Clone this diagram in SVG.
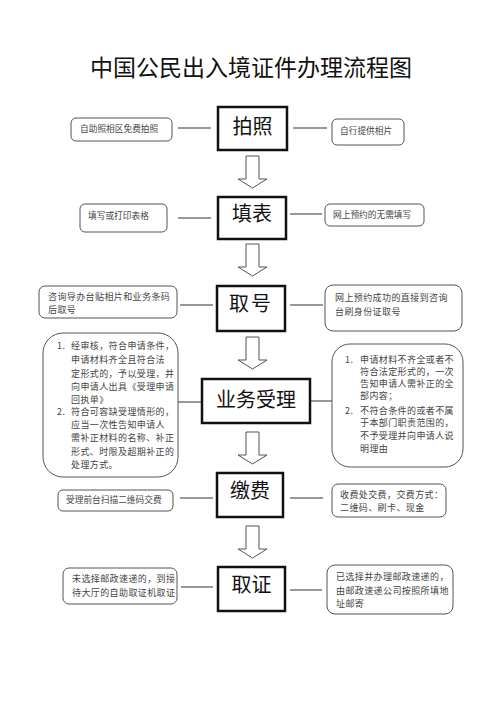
<svg xmlns="http://www.w3.org/2000/svg" xmlns:xlink="http://www.w3.org/1999/xlink" width="500" height="707" viewBox="0 0 500 707">
<style>
.title{font-family:"Noto Sans CJK SC",sans-serif;font-size:23px;fill:#111;font-weight:400}
.main{fill:#fff;stroke:#111;stroke-width:2.5}
.ml{font-family:"Noto Sans CJK SC",sans-serif;font-size:20px;fill:#111;text-anchor:middle}
.side{fill:#fff;stroke:#555;stroke-width:1}
.st{font-family:"Noto Sans CJK SC",sans-serif;font-size:8.7px;fill:#444}
.sw{font-family:"Noto Sans CJK SC",sans-serif;font-size:9px;fill:#444;letter-spacing:0.4px}
.conn line{stroke:#333;stroke-width:1}
.arr{fill:#fff;stroke:#555;stroke-width:1}
</style>
<defs>
<path id="arrow" class="arr" d="M-6.5,0 H6.5 V23 H14.5 L0,32 L-14.5,23 H-6.5 Z"/>
</defs>
<rect width="500" height="707" fill="#fff"/>
<text class="title" x="251" y="76" text-anchor="middle">中国公民出入境证件办理流程图</text>

<g id="connectors" class="conn">
<line x1="178" y1="128" x2="211" y2="128"/>
<line x1="293" y1="128" x2="327" y2="128"/>
<line x1="178" y1="218" x2="211" y2="218"/>
<line x1="290" y1="214" x2="322" y2="214"/>
<line x1="180" y1="305" x2="213" y2="305"/>
<line x1="290" y1="305" x2="323" y2="305"/>
<line x1="178" y1="402" x2="202" y2="402"/>
<line x1="310" y1="401" x2="332" y2="401"/>
<line x1="180" y1="498" x2="213" y2="498"/>
<line x1="290" y1="498" x2="323" y2="498"/>
<line x1="181" y1="587" x2="213" y2="587"/>
<line x1="290" y1="590" x2="322" y2="590"/>
<use xlink:href="#arrow" x="252.5" y="156"/>
<use xlink:href="#arrow" x="252.5" y="244"/>
<use xlink:href="#arrow" x="252.5" y="337"/>
<use xlink:href="#arrow" x="252.5" y="432"/>
<use xlink:href="#arrow" x="252.5" y="526"/>
</g>

<g id="step1">
<rect class="main" x="218" y="107" width="69" height="43"/>
<text class="ml" x="252.5" y="134">拍照</text>
</g>
<g id="step1-left">
<rect class="side" x="71" y="118" width="101" height="23" rx="5"/>
<text class="st" x="80" y="132">自助照相区免费拍照</text>
</g>
<g id="step1-right">
<rect class="side" x="332" y="119" width="72" height="26" rx="5"/>
<text class="st" x="340" y="134">自行提供相片</text>
</g>

<g id="step2">
<rect class="main" x="218" y="197" width="68" height="42"/>
<text class="ml" x="252" y="221">填表</text>
</g>
<g id="step2-left">
<rect class="side" x="80" y="204" width="87" height="28" rx="5"/>
<text class="st" x="88" y="219">填写或打印表格</text>
</g>
<g id="step2-right">
<rect class="side" x="325" y="204" width="99" height="22" rx="5"/>
<text class="st" x="333" y="218">网上预约的无需填写</text>
</g>

<g id="step3">
<rect class="main" x="217" y="286" width="68" height="45"/>
<text class="ml" x="251" y="311" letter-spacing="2">取号</text>
</g>
<g id="step3-left">
<rect class="side" x="39" y="286" width="138" height="32" rx="6"/>
<text class="sw" x="48" y="300">咨询导办台贴相片和业务条码</text>
<text class="sw" x="48" y="313">后取号</text>
</g>
<g id="step3-right">
<rect class="side" x="325" y="285" width="137" height="46" rx="8"/>
<text class="sw" x="335" y="301">网上预约成功的直接到咨询</text>
<text class="sw" x="335" y="315">台刷身份证取号</text>
</g>

<g id="step4">
<rect class="main" x="202" y="379" width="108" height="44"/>
<text class="ml" x="256" y="407">业务受理</text>
</g>
<g id="step4-left">
<rect class="side" x="43" y="333" width="135" height="144" rx="20"/>
<g class="sw">
<text x="57" y="349">1.</text>
<text x="71" y="349">经审核，符合申请条件，</text>
<text x="71" y="363">申请材料齐全且符合法</text>
<text x="71" y="377">定形式的，予以受理，并</text>
<text x="71" y="390">向申请人出具《受理申请</text>
<text x="71" y="403">回执单》</text>
<text x="57" y="415">2.</text>
<text x="71" y="415">符合可容缺受理情形的，</text>
<text x="71" y="428">应当一次性告知申请人</text>
<text x="71" y="441">需补正材料的名称、补正</text>
<text x="71" y="455">形式、时限及超期补正的</text>
<text x="71" y="468">处理方式。</text>
</g>
</g>
<g id="step4-right">
<rect class="side" x="332" y="344" width="131" height="123" rx="18"/>
<g class="sw">
<text x="345" y="363">1.</text>
<text x="360" y="363">申请材料不齐全或者不</text>
<text x="360" y="375">符合法定形式的，一次</text>
<text x="360" y="387">告知申请人需补正的全</text>
<text x="360" y="399">部内容；</text>
<text x="345" y="414">2.</text>
<text x="360" y="414">不符合条件的或者不属</text>
<text x="360" y="426">于本部门职责范围的，</text>
<text x="360" y="439">不予受理并向申请人说</text>
<text x="360" y="452">明理由</text>
</g>
</g>

<g id="step5">
<rect class="main" x="217" y="473" width="66" height="44"/>
<text class="ml" x="250" y="498">缴费</text>
</g>
<g id="step5-left">
<rect class="side" x="58" y="490" width="115" height="21" rx="5"/>
<text class="st" x="66" y="503">受理前台扫描二维码交费</text>
</g>
<g id="step5-right">
<rect class="side" x="332" y="484" width="114" height="33" rx="6"/>
<text class="sw" x="340" y="498">收费处交费，交费方式：</text>
<text class="sw" x="340" y="511">二维码、刷卡、现金</text>
</g>

<g id="step6">
<rect class="main" x="218" y="567" width="67" height="44"/>
<text class="ml" x="251.5" y="592">取证</text>
</g>
<g id="step6-left">
<rect class="side" x="63" y="568" width="114" height="36" rx="6"/>
<text class="sw" x="72" y="582">未选择邮政速递的，到接</text>
<text class="sw" x="72" y="596">待大厅的自助取证机取证</text>
</g>
<g id="step6-right">
<rect class="side" x="327" y="565" width="126" height="49" rx="8"/>
<text class="sw" x="336" y="580">已选择并办理邮政速递的，</text>
<text class="sw" x="336" y="594">由邮政速递公司按照所填地</text>
<text class="sw" x="336" y="607">址邮寄</text>
</g>
</svg>
